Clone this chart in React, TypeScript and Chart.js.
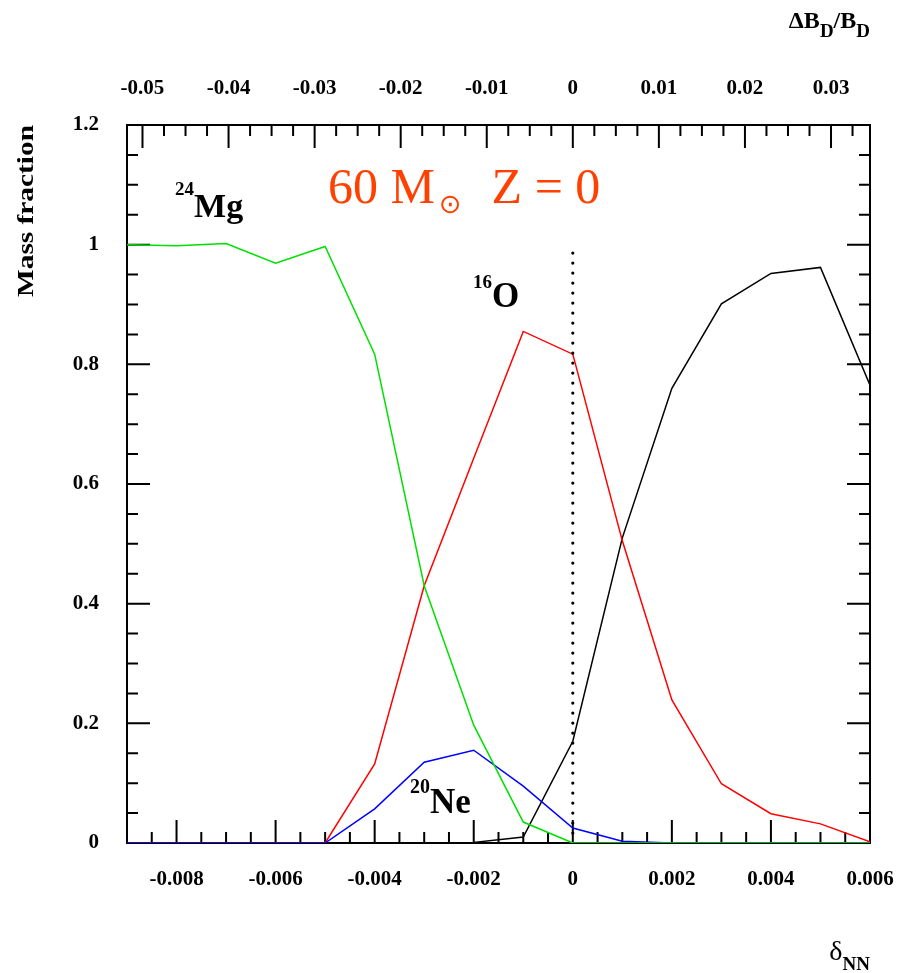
import React, { useEffect, useRef } from 'react';
import { Chart, registerables } from 'chart.js';

Chart.register(...registerables);

// ---- data ----
const deltaNN = [-0.009, -0.008, -0.007, -0.006, -0.005, -0.004, -0.003, -0.002, -0.001, 0, 0.001, 0.002, 0.003, 0.004, 0.005, 0.006];
const mg24 = [1.0, 0.998, 1.002, 0.969, 0.997, 0.817, 0.43, 0.197, 0.035, 0, 0, 0, 0, 0, 0, 0];
const o16 = [0, 0, 0, 0, 0, 0.132, 0.43, 0.643, 0.855, 0.817, 0.505, 0.239, 0.099, 0.049, 0.032, 0.002];
const ne20 = [0, 0, 0, 0, 0, 0.057, 0.135, 0.155, 0.095, 0.025, 0.003, 0, 0, 0, 0, 0];
const heavy = [0, 0, 0, 0, 0, 0, 0, 0.001, 0.01, 0.17, 0.51, 0.76, 0.901, 0.952, 0.962, 0.765];
const boundaryX = [0, 0];
const boundaryY = [0.986, 0];

// ---- axes ----
const xMin = -0.009;
const xMax = 0.006;
const topMin = -0.0518;
const topMax = 0.03453;
const yMin = 0;
const yMax = 1.2;
const bottomTicks = [-0.008, -0.006, -0.004, -0.002, 0, 0.002, 0.004, 0.006];
const bottomTickLabels = ['-0.008', '-0.006', '-0.004', '-0.002', '0', '0.002', '0.004', '0.006'];
const topTicks = [-0.05, -0.04, -0.03, -0.02, -0.01, 0, 0.01, 0.02, 0.03];
const topTickLabels = ['-0.05', '-0.04', '-0.03', '-0.02', '-0.01', '0', '0.01', '0.02', '0.03'];
const leftTicks = [0, 0.2, 0.4, 0.6, 0.8, 1, 1.2];
const leftTickLabels = ['0', '0.2', '0.4', '0.6', '0.8', '1', '1.2'];
const bottomMinorStep = 0.0005;
const topMinorStep = 0.0025;
const leftMinorStep = 0.05;

const SERIF = "'Liberation Serif', 'Times New Roman', serif";
const TITLE_COLOR = '#ff4000';

type Run = { text: string; font: string; dy?: number; gap?: number; color?: string };

function drawRuns(ctx: CanvasRenderingContext2D, x: number, y: number, runs: Run[], align: 'left' | 'right' = 'left') {
  let total = 0;
  runs.forEach((r) => {
    ctx.font = r.font;
    total += (r.gap || 0) + ctx.measureText(r.text).width;
  });
  let cx = align === 'right' ? x - total : x;
  ctx.textAlign = 'left';
  ctx.textBaseline = 'alphabetic';
  runs.forEach((r) => {
    ctx.font = r.font;
    cx += r.gap || 0;
    ctx.fillStyle = r.color || '#000';
    ctx.fillText(r.text, cx, y + (r.dy || 0));
    cx += ctx.measureText(r.text).width;
  });
}

function pts(xs: number[], ys: number[]) {
  return xs.map((x, i) => ({ x, y: ys[i] }));
}

const framePlugin = {
  id: 'frameTicks',
  beforeDatasetsDraw(chart: any) {
    const { ctx, chartArea: a, scales } = chart;
    const x = scales.x;
    const x2 = scales.x2;
    const y = scales.y;
    ctx.save();
    ctx.strokeStyle = '#000';
    ctx.lineWidth = 2;
    ctx.lineCap = 'butt';
    ctx.strokeRect(a.left, a.top, a.right - a.left, a.bottom - a.top);
    const MAJ = 23;
    const MIN = 11;
    const isMajor = (v: number, step: number) => Math.abs(v / step - Math.round(v / step)) < 1e-6;
    ctx.beginPath();
    // bottom axis
    for (let i = Math.ceil(xMin / bottomMinorStep); i * bottomMinorStep <= xMax + 1e-9; i++) {
      const v = i * bottomMinorStep;
      const px = x.getPixelForValue(v);
      const len = isMajor(v, 0.002) ? MAJ : MIN;
      ctx.moveTo(px, a.bottom);
      ctx.lineTo(px, a.bottom - len);
    }
    // top axis
    for (let i = Math.ceil(topMin / topMinorStep); i * topMinorStep <= topMax + 1e-9; i++) {
      const v = i * topMinorStep;
      const px = x2.getPixelForValue(v);
      const len = isMajor(v, 0.01) ? MAJ : MIN;
      ctx.moveTo(px, a.top);
      ctx.lineTo(px, a.top + len);
    }
    // left + right axes
    for (let i = Math.ceil(yMin / leftMinorStep); i * leftMinorStep <= yMax + 1e-9; i++) {
      const v = i * leftMinorStep;
      const py = y.getPixelForValue(v);
      const len = isMajor(v, 0.2) ? MAJ : MIN;
      ctx.moveTo(a.left, py);
      ctx.lineTo(a.left + len, py);
      ctx.moveTo(a.right, py);
      ctx.lineTo(a.right - len, py);
    }
    ctx.stroke();
    ctx.restore();
  },
  afterDraw(chart: any) {
    const { ctx, scales } = chart;
    const x = scales.x;
    const y = scales.y;
    ctx.save();
    // title
    drawRuns(ctx, x.getPixelForValue(-0.004942), y.getPixelForValue(1.0697), [
      { text: '60 M', font: `50px ${SERIF}`, color: TITLE_COLOR },
      { text: '\u2299', font: `27px 'DejaVu Sans'`, dy: 10, gap: 4, color: TITLE_COLOR },
      { text: 'Z = 0', font: `50px ${SERIF}`, gap: 30, color: TITLE_COLOR },
    ]);
    // isotope labels
    drawRuns(ctx, x.getPixelForValue(-0.00803), y.getPixelForValue(1.046), [
      { text: '24', font: `bold 19px ${SERIF}`, dy: -22 },
      { text: 'Mg', font: `bold 34px ${SERIF}` },
    ]);
    drawRuns(ctx, x.getPixelForValue(-0.002015), y.getPixelForValue(0.8958), [
      { text: '16', font: `bold 19px ${SERIF}`, dy: -19 },
      { text: 'O', font: `bold 35px ${SERIF}` },
    ]);
    drawRuns(ctx, x.getPixelForValue(-0.003287), y.getPixelForValue(0.0501), [
      { text: '20', font: `bold 20px ${SERIF}`, dy: -20 },
      { text: 'Ne', font: `bold 35px ${SERIF}` },
    ]);
    // axis titles
    drawRuns(ctx, 870, 28, [
      { text: '\u0394B', font: `bold 24px ${SERIF}` },
      { text: 'D', font: `bold 19px ${SERIF}`, dy: 9 },
      { text: '/B', font: `bold 24px ${SERIF}` },
      { text: 'D', font: `bold 19px ${SERIF}`, dy: 9 },
    ], 'right');
    drawRuns(ctx, 870, 960, [
      { text: '\u03b4', font: `28px ${SERIF}` },
      { text: 'NN', font: `bold 19px ${SERIF}`, dy: 10 },
    ], 'right');
    // y title
    ctx.translate(33, 211);
    ctx.rotate(-Math.PI / 2);
    ctx.font = `bold 24px ${SERIF}`;
    const w = ctx.measureText('Mass fraction').width;
    ctx.scale(172 / w, 1);
    ctx.fillStyle = '#000';
    ctx.textAlign = 'center';
    ctx.textBaseline = 'alphabetic';
    ctx.fillText('Mass fraction', 0, 0);
    ctx.restore();
  },
};

const tickFont = { family: SERIF, size: 21, weight: 'bold' as const };

export default function App() {
  const ref = useRef<HTMLCanvasElement | null>(null);
  useEffect(() => {
    if (!ref.current) return;
    const line = (label: string, ys: number[], color: string) => ({
      label,
      data: pts(deltaNN, ys),
      showLine: true,
      borderColor: color,
      backgroundColor: color,
      borderWidth: 1.5,
      pointRadius: 0,
      fill: false,
      tension: 0,
    });
    const chart = new Chart(ref.current, {
      type: 'scatter',
      data: {
        datasets: [
          {
            label: 'boundary',
            data: pts(boundaryX, boundaryY),
            showLine: true,
            borderColor: '#000',
            borderWidth: 3.2,
            borderDash: [0, 10],
            borderCapStyle: 'round',
            pointRadius: 0,
            fill: false,
          } as any,
          line('24Mg', mg24, '#00e000'),
          line('20Ne', ne20, '#0000ff'),
          line('16O', o16, '#ff0000'),
          line('other', heavy, '#000000'),
        ],
      },
      options: {
        responsive: false,
        animation: false,
        layout: { padding: { left: 0, top: 0, right: 27, bottom: 0 } },
        plugins: { legend: { display: false }, tooltip: { enabled: false } },
        scales: {
          x: {
            type: 'linear',
            position: 'bottom',
            min: xMin,
            max: xMax,
            bounds: 'data',
            grid: { display: false, drawTicks: false },
            border: { display: false },
            afterBuildTicks: (s: any) => {
              s.ticks = bottomTicks.map((value) => ({ value }));
            },
            afterFit: (s: any) => {
              s.height = 130;
              s.paddingLeft = 0;
              s.paddingRight = 0;
            },
            ticks: {
              autoSkip: false,
              maxRotation: 0,
              padding: 24,
              color: '#000',
              font: tickFont,
              callback: (_v: any, i: number) => bottomTickLabels[i],
            },
          },
          x2: {
            type: 'linear',
            position: 'top',
            min: topMin,
            max: topMax,
            bounds: 'data',
            grid: { display: false, drawTicks: false },
            border: { display: false },
            afterBuildTicks: (s: any) => {
              s.ticks = topTicks.map((value) => ({ value }));
            },
            afterFit: (s: any) => {
              s.height = 125;
              s.paddingLeft = 0;
              s.paddingRight = 0;
            },
            ticks: {
              autoSkip: false,
              maxRotation: 0,
              padding: 24,
              color: '#000',
              font: tickFont,
              callback: (_v: any, i: number) => topTickLabels[i],
            },
          },
          y: {
            type: 'linear',
            position: 'left',
            min: yMin,
            max: yMax,
            grid: { display: false, drawTicks: false },
            border: { display: false },
            afterBuildTicks: (s: any) => {
              s.ticks = leftTicks.map((value) => ({ value }));
            },
            afterFit: (s: any) => {
              s.width = 127;
              s.paddingTop = 0;
              s.paddingBottom = 0;
            },
            ticks: {
              autoSkip: false,
              padding: 28,
              color: '#000',
              font: tickFont,
              callback: (_v: any, i: number) => leftTickLabels[i],
            },
          },
        },
      } as any,
      plugins: [framePlugin],
    });
    return () => chart.destroy();
  }, []);
  return (
    <div style={{ position: 'fixed', left: 0, top: 0, width: 897, height: 973, background: '#fff' }}>
      <canvas ref={ref} width={897} height={973} style={{ display: 'block' }} />
    </div>
  );
}
